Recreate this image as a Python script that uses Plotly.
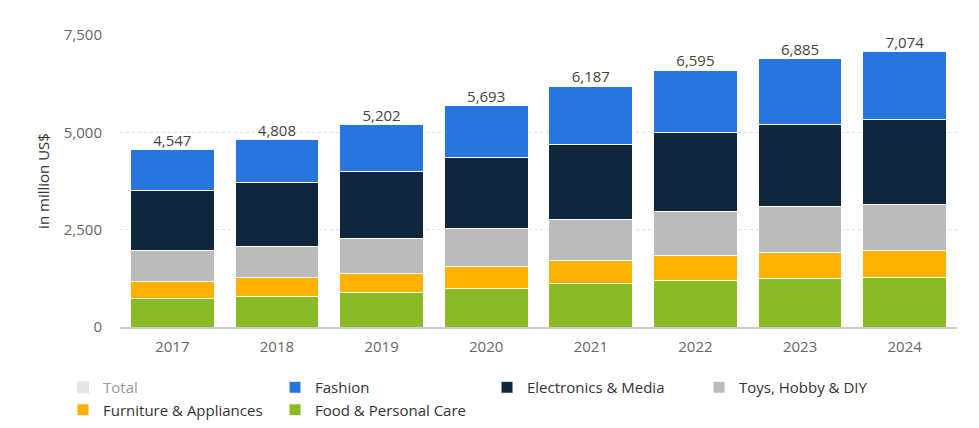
import plotly.graph_objects as go

years = ["2017", "2018", "2019", "2020", "2021", "2022", "2023", "2024"]
totals = [4547, 4808, 5202, 5693, 6187, 6595, 6885, 7074]
food = [720, 786, 881, 977, 1105, 1198, 1234, 1267]
furniture = [452, 481, 481, 580, 607, 642, 683, 702]
toys = [797, 804, 900, 962, 1053, 1123, 1182, 1182]
electronics = [1542, 1638, 1737, 1832, 1928, 2023, 2108, 2184]
fashion = [1036, 1099, 1203, 1342, 1494, 1609, 1678, 1739]
total_labels = [f"{t:,}" for t in totals]

series = [
    ("Food & Personal Care", food, "#8aba26"),
    ("Furniture & Appliances", furniture, "#ffb000"),
    ("Toys, Hobby & DIY", toys, "#bbbbbb"),
    ("Electronics & Media", electronics, "#10263f"),
    ("Fashion", fashion, "#2876dd"),
]

font = "Open Sans, Noto Sans, sans-serif"
fig = go.Figure()
for name, vals, color in series:
    fig.add_trace(go.Bar(x=years, y=vals, name=name,
                         marker=dict(color=color, line=dict(color="#ffffff", width=1))))
# total labels above the stacks
fig.add_trace(go.Scatter(x=years, y=totals, mode="text", text=total_labels,
                         textposition="top center", showlegend=False, hoverinfo="skip",
                         cliponaxis=False,
                         textfont=dict(family=font, size=15, color="#444444")))
fig.add_trace(go.Scatter(x=[years[0]], y=[None], name="Total", mode="markers",
                         visible="legendonly",
                         marker=dict(symbol="square", size=12, color="#cccccc")))

fig.update_layout(
    width=979, height=428,
    margin=dict(l=120, r=22, t=35, b=101, autoexpand=False),
    barmode="stack", bargap=0.2,
    plot_bgcolor="#ffffff", paper_bgcolor="#ffffff",
    font=dict(family=font, size=15, color="#666666"),
    showlegend=True,
    legend=dict(orientation="h", x=-0.0681, xanchor="left", y=-0.1507, yanchor="top",
                entrywidth=167, entrywidthmode="pixels", traceorder="reversed",
                font=dict(family=font, size=15, color="#333333")),
    xaxis=dict(type="category", categoryorder="array", categoryarray=years,
               range=[-0.5, len(years) - 0.5], autorange=False,
               showline=True, linecolor="#cccccc", linewidth=2,
               ticks="outside", ticklen=5, tickcolor="rgba(0,0,0,0)",
               tickfont=dict(family=font, size=15, color="#666666")),
    yaxis=dict(range=[0, 7500], autorange=False, tickvals=[0, 2500, 5000, 7500],
               ticktext=["0", "2,500", "5,000", "7,500"],
               showgrid=True, gridcolor="#e0e0e0", griddash="dot", gridwidth=1,
               zeroline=False, ticks="outside", ticklen=14, tickcolor="rgba(0,0,0,0)",
               tickfont=dict(family=font, size=15, color="#666666"),
               title=dict(text="in million US$", standoff=10,
                          font=dict(family=font, size=15, color="#333333"))),
)

fig.write_html("out.html")
